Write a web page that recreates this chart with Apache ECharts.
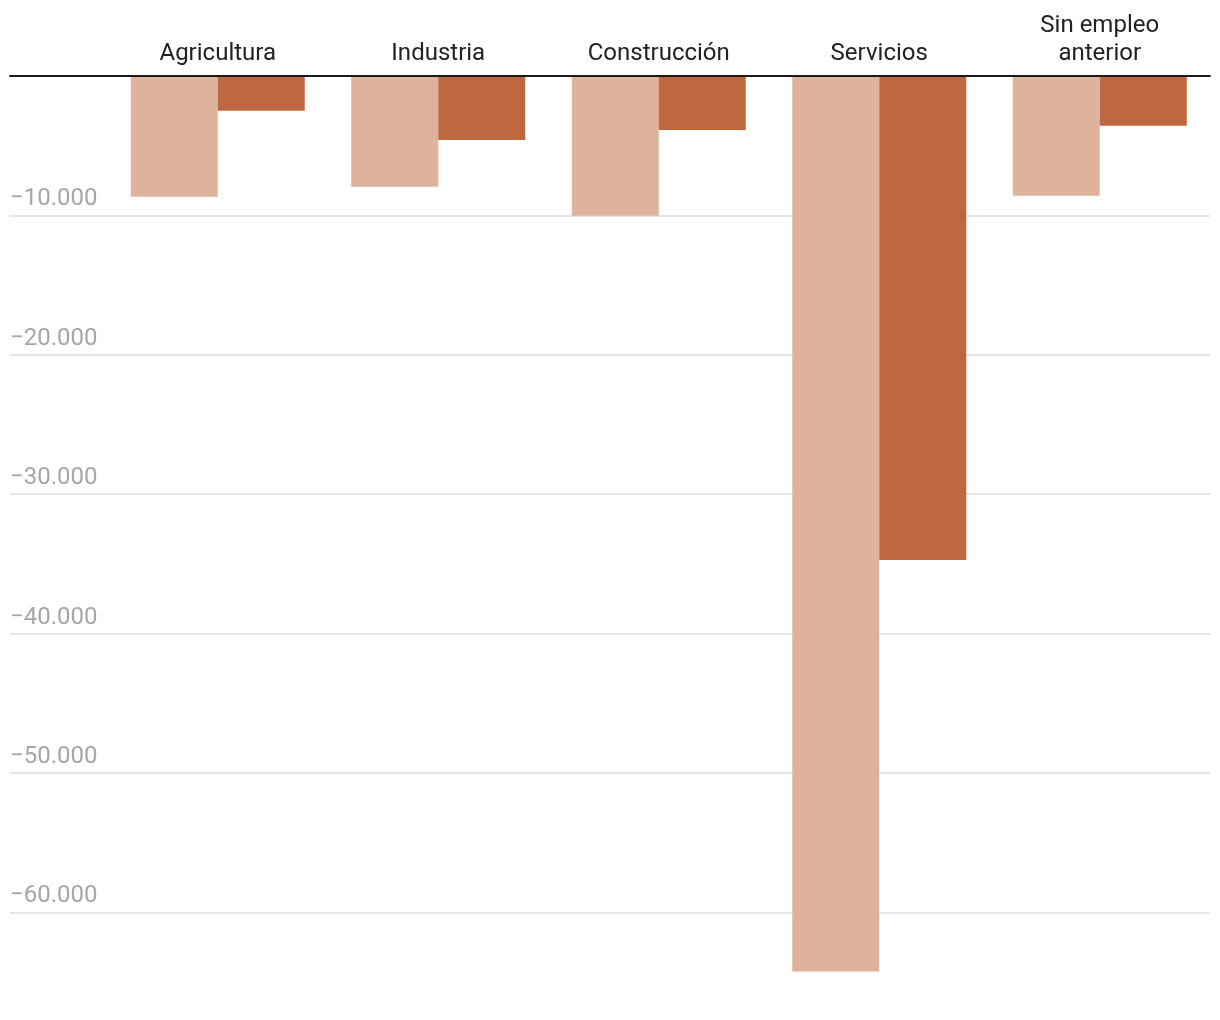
<!DOCTYPE html>
<html>
<head>
<meta charset="utf-8">
<script src="https://cdn.jsdelivr.net/npm/echarts@6/dist/echarts.min.js"></script>
<style>
html,body{margin:0;padding:0;background:#fff;}
#chart{width:1220px;height:1020px;}
</style>
</head>
<body>
<div id="chart"></div>
<script>
const categories = ['Agricultura', 'Industria', 'Construcción', 'Servicios', 'Sin empleo\nanterior'];
const seriesNames = ['Periodo 1', 'Periodo 2'];
const values1 = [-8660, -7940, -10020, -64250, -8590];
const values2 = [-2490, -4590, -3870, -34720, -3570];
const axisMin = -65000;
const axisMax = 0;
const axisStep = 5000;
const labelStep = 10000;

function fmt(v) {
  if (v === 0 || v % labelStep !== 0) return '';
  const s = String(Math.abs(v)).replace(/\B(?=(\d{3})+(?!\d))/g, '.');
  return (v < 0 ? '\u2212' : '') + s;
}

const chart = echarts.init(document.getElementById('chart'));
const gridTop = 76, gridBottom = 38;
chart.setOption({
  backgroundColor: '#ffffff',
  animation: false,
  textStyle: { fontFamily: 'Roboto' },
  grid: [
    { left: 10, right: 10, top: gridTop, bottom: gridBottom },
    { left: 107.5, right: 10, top: gridTop, bottom: gridBottom }
  ],
  xAxis: [
    {
      gridIndex: 0, type: 'category', data: [''], position: 'top', z: 10,
      axisLine: { show: true, lineStyle: { color: '#1a1a1a', width: 2 } },
      axisTick: { show: false }, axisLabel: { show: false }, splitLine: { show: false }
    },
    {
      gridIndex: 1, type: 'category', data: categories, position: 'top',
      axisLine: { show: false }, axisTick: { show: false },
      axisLabel: { color: '#222222', fontSize: 24, lineHeight: 28, margin: 8, fontFamily: 'Roboto' },
      splitLine: { show: false }
    }
  ],
  yAxis: [
    {
      gridIndex: 0, type: 'value', min: axisMin, max: axisMax, interval: axisStep,
      axisLine: { show: false }, axisTick: { show: false },
      axisLabel: {
        inside: true, margin: 0, align: 'left', verticalAlign: 'bottom',
        padding: [0, 0, 4, 0],
        color: '#a6a6a6', fontSize: 24, fontFamily: 'Roboto', formatter: fmt
      },
      splitLine: { show: true, lineStyle: { color: ['rgba(0,0,0,0)', '#e5e5e5'], width: 2 } }
    },
    {
      gridIndex: 1, type: 'value', min: axisMin, max: axisMax, interval: axisStep,
      show: false, splitLine: { show: false }
    }
  ],
  series: [
    {
      name: seriesNames[0], type: 'bar', xAxisIndex: 1, yAxisIndex: 1,
      data: values1, barWidth: 87, barGap: '0%',
      itemStyle: { color: '#dfb29c' }
    },
    {
      name: seriesNames[1], type: 'bar', xAxisIndex: 1, yAxisIndex: 1,
      data: values2, barWidth: 87, barGap: '0%',
      itemStyle: { color: '#bf673f' }
    }
  ]
});
</script>
</body>
</html>
